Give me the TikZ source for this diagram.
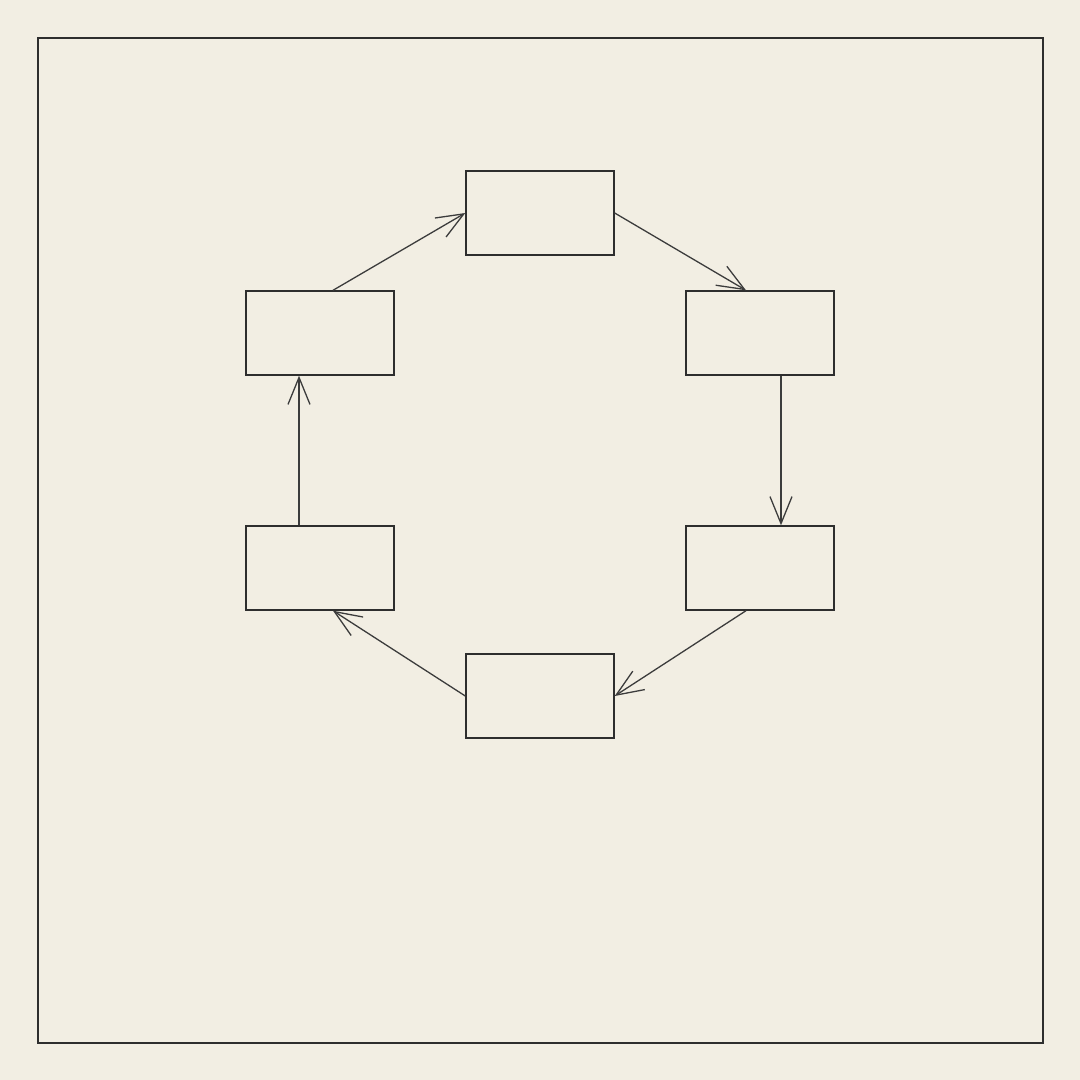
\documentclass[tikz,border=0pt]{standalone}
\usetikzlibrary{arrows.meta}
\definecolor{bg}{HTML}{F2EEE3}
\definecolor{boxline}{HTML}{2E2E2E}
\definecolor{arrline}{HTML}{3C3C3C}
\begin{document}
\begin{tikzpicture}[x=1pt,y=-1pt,
  stagebox/.style={draw=boxline,line width=1.4pt,minimum width=148pt,minimum height=84pt,inner sep=0pt,fill=bg},
  flow/.style={draw=arrline,line width=1.3pt,-{Straight Barb[length=27pt,width=22pt,line width=1.3pt]}}]
\fill[bg] (0,0) rectangle (1080,1080);
\useasboundingbox (0,0) rectangle (1080,1080);
\draw[boxline,line width=1.5pt] (38,38) rectangle (1043,1043);
\node[stagebox] (top) at (540,213) {};
\node[stagebox] (ru) at (760,333) {};
\node[stagebox] (rl) at (760,568) {};
\node[stagebox] (bot) at (540,696) {};
\node[stagebox] (ll) at (320,568) {};
\node[stagebox] (lu) at (320,333) {};
\draw[flow] (top.east) -- ([xshift=-14pt]ru.north);
\draw[flow] ([xshift=21pt]ru.south) -- ([xshift=21pt]rl.north);
\draw[flow] ([xshift=-14pt]rl.south) -- (bot.east);
\draw[flow] (bot.west) -- ([xshift=13pt]ll.south);
\draw[flow] ([xshift=-21pt]ll.north) -- ([xshift=-21pt]lu.south);
\draw[flow] ([xshift=13pt]lu.north) -- (top.west);
\end{tikzpicture}
\end{document}
